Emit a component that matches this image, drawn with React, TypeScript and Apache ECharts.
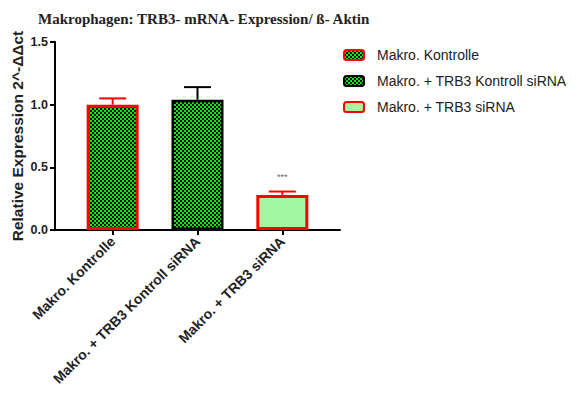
import React, { useEffect, useRef } from "react";
import * as echarts from "echarts";

const categories = ["Makro. Kontrolle", "Makro. + TRB3 Kontroll siRNA", "Makro. + TRB3 siRNA"];
const means = [1.0, 1.04, 0.28];
const errors = [0.05, 0.1, 0.027];
const yTicks = [0, 0.5, 1.0, 1.5];
const significance = ["", "", "***"];

const borderColors = ["#ff0000", "#000000", "#ff0000"];

function checkerCanvas(): HTMLCanvasElement {
  const c = document.createElement("canvas");
  c.width = 4;
  c.height = 4;
  const ctx = c.getContext("2d")!;
  ctx.fillStyle = "#00ee00";
  ctx.fillRect(0, 0, 4, 4);
  ctx.fillStyle = "#000000";
  ctx.fillRect(0, 0, 2, 2);
  ctx.fillRect(2, 2, 2, 2);
  return c;
}

export default function App() {
  const ref = useRef<HTMLDivElement>(null);

  useEffect(() => {
    if (!ref.current) return;
    const chart = echarts.init(ref.current, undefined, { renderer: "svg" });
    const checker = { image: checkerCanvas(), repeat: "repeat" } as any;
    const fills = [checker, checker, "#a3f7a3"];
    const font = "Liberation Sans, Arial, sans-serif";

    const barSeries = categories.map((name, i) => ({
      type: "bar",
      name,
      barGap: "-100%",
      barWidth: 52,
      data: [[i, means[i]]],
      itemStyle: {
        color: fills[i],
        borderColor: borderColors[i],
        borderWidth: i === 1 ? 2.5 : 3,
      },
      label: {
        show: significance[i] !== "",
        position: "top",
        distance: 13,
        formatter: () => significance[i],
        fontSize: 9,
        color: "#666",
        fontFamily: font,
      },
      z: 2,
    }));

    const errorSeries = {
      type: "custom",
      name: "err",
      data: means.map((m, i) => [i, m, m + errors[i]]),
      renderItem: (params: any, api: any) => {
        const i = params.dataIndex;
        const x = api.value(0);
        const base = api.coord([x, api.value(1)]);
        const top = api.coord([x, api.value(2)]);
        const half = 13.5;
        const stroke = borderColors[i];
        return {
          type: "group",
          children: [
            {
              type: "line",
              shape: { x1: base[0], y1: base[1], x2: top[0], y2: top[1] },
              style: { stroke, lineWidth: 2 },
            },
            {
              type: "line",
              shape: { x1: top[0] - half, y1: top[1], x2: top[0] + half, y2: top[1] },
              style: { stroke, lineWidth: 2 },
            },
          ],
        };
      },
      z: 1,
    };

    chart.setOption({
      animation: false,
      title: {
        text: "Makrophagen: TRB3- mRNA- Expression/ ß- Aktin",
        left: 33,
        top: 6,
        textStyle: {
          fontFamily: "Liberation Serif, Times New Roman, serif",
          fontWeight: "bold",
          fontSize: 15,
          color: "#222",
        },
      },
      legend: {
        orient: "vertical",
        left: 343,
        top: 48,
        padding: 0,
        itemWidth: 20,
        itemHeight: 10,
        itemGap: 12,
        data: categories,
        textStyle: { fontFamily: font, fontSize: 14, color: "#222", padding: [0, 0, 0, 8] },
      },
      grid: { left: 55, right: 243, top: 42, bottom: 164 },
      xAxis: {
        type: "value",
        min: -0.68,
        max: 2.68,
        axisLine: { show: true, onZero: false, lineStyle: { color: "#000", width: 2 } },
        axisTick: { show: true, customValues: [0, 1, 2], length: 5, lineStyle: { color: "#000", width: 2 } },
        axisLabel: {
          customValues: [0, 1, 2],
          formatter: (v: number) => categories[Math.round(v)],
          rotate: 45,
          margin: 9,
          fontFamily: font,
          fontWeight: "bold",
          fontSize: 14,
          color: "#222",
        },
        splitLine: { show: false },
      },
      yAxis: {
        type: "value",
        min: yTicks[0],
        max: yTicks[yTicks.length - 1],
        interval: 0.5,
        name: "Relative Expression 2^-ΔΔct",
        nameLocation: "middle",
        nameGap: 30,
        nameTextStyle: { fontFamily: font, fontWeight: "bold", fontSize: 15.5, color: "#222" },
        axisLine: { show: true, onZero: false, lineStyle: { color: "#000", width: 2 } },
        axisTick: { show: true, length: 5, lineStyle: { color: "#000", width: 2 } },
        axisLabel: {
          formatter: (v: number) => v.toFixed(1),
          margin: 7,
          fontFamily: font,
          fontWeight: "bold",
          fontSize: 12.5,
          color: "#222",
        },
        splitLine: { show: false },
      },
      series: [...barSeries, errorSeries],
    } as any);
    return () => chart.dispose();
  }, []);

  return <div ref={ref} style={{ width: 583, height: 394, position: "absolute", left: 0, top: 0 }} />;
}
